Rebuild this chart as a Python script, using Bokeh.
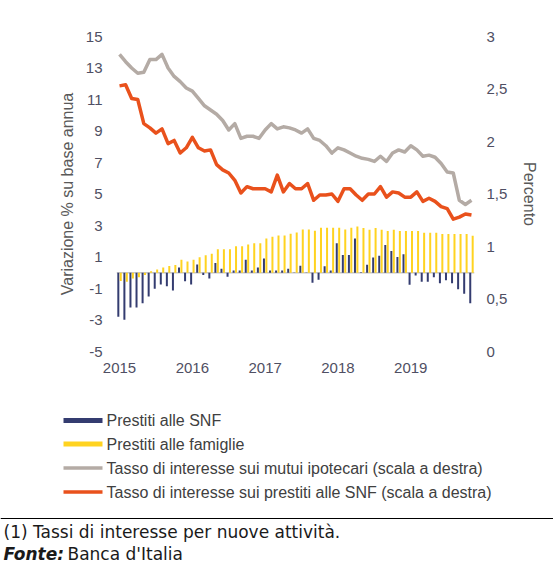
from bokeh.plotting import figure
from bokeh.models import Range1d, LinearAxis, FixedTicker, Span, CustomJSTickFormatter, ColumnDataSource
from bokeh.transform import dodge
from bokeh.core.properties import value
from bokeh.embed import file_html
from bokeh.resources import INLINE

# ---------------- data (monthly, Jan 2015 - Nov 2019) ----------------
years = ["2015", "2016", "2017", "2018", "2019"]

prestiti_snf = [
    -2.79, -2.98, -2.20, -2.20, -1.93, -1.50, -1.02, -0.74, -0.85, -1.12, 0.34, -0.54,
    -0.75, 0.53, -0.15, -0.36, 0.62, 0.26, -0.25, 0.15, 0.15, 0.83, 0.15, 0.34,
    0.91, 0.15, 0.15, 0.15, 0.25, 0.02, 0.44, 0.02, -0.63, -0.44, 0.42, 0.15,
    1.88, 1.12, 1.12, 2.18, 0.03, 0.51, 0.97, 1.08, 1.76, 1.38, 1.00, 1.18,
    -0.76, -0.17, -0.57, -0.57, -0.28, -0.66, -0.47, -0.66, -1.04, -1.33, -1.93,
]
prestiti_famiglie = [
    -0.53, -0.57, -0.36, -0.28, -0.15, 0.10, 0.21, 0.34, 0.43, 0.50, 0.83, 0.71,
    0.83, 0.99, 1.11, 1.21, 1.50, 1.50, 1.50, 1.68, 1.68, 1.80, 1.88, 1.88,
    2.18, 2.29, 2.37, 2.37, 2.48, 2.56, 2.75, 2.75, 2.67, 2.86, 2.86, 2.86,
    2.86, 2.75, 2.86, 2.93, 2.84, 2.73, 2.84, 2.73, 2.65, 2.73, 2.65, 2.65,
    2.65, 2.65, 2.54, 2.54, 2.54, 2.46, 2.46, 2.46, 2.46, 2.46, 2.35,
]
tasso_mutui = [
    2.83, 2.76, 2.70, 2.65, 2.66, 2.78, 2.78, 2.83, 2.70, 2.62, 2.57, 2.51,
    2.48, 2.41, 2.34, 2.30, 2.26, 2.20, 2.11, 2.17, 2.03, 2.05, 2.05, 2.03,
    2.11, 2.17, 2.12, 2.14, 2.13, 2.11, 2.08, 2.12, 2.03, 2.01, 1.96, 1.89,
    1.94, 1.92, 1.89, 1.86, 1.84, 1.83, 1.81, 1.86, 1.81, 1.89, 1.92, 1.90,
    1.96, 1.92, 1.86, 1.87, 1.85, 1.79, 1.71, 1.70, 1.44, 1.40, 1.44,
]
tasso_snf = [
    2.53, 2.54, 2.41, 2.40, 2.17, 2.13, 2.08, 2.12, 1.98, 2.01, 1.89, 1.94,
    2.04, 1.94, 1.91, 1.92, 1.78, 1.73, 1.70, 1.63, 1.51, 1.57, 1.55, 1.55,
    1.55, 1.52, 1.68, 1.52, 1.60, 1.55, 1.55, 1.60, 1.44, 1.49, 1.49, 1.50,
    1.43, 1.55, 1.55, 1.49, 1.44, 1.50, 1.50, 1.57, 1.47, 1.52, 1.51, 1.47,
    1.47, 1.52, 1.43, 1.46, 1.43, 1.38, 1.36, 1.26, 1.28, 1.31, 1.30,
]

legend_labels = [
    "Prestiti alle SNF",
    "Prestiti alle famiglie",
    "Tasso di interesse sui mutui ipotecari (scala a destra)",
    "Tasso di interesse sui prestiti alle SNF (scala a destra)",
]
left_title = "Variazione % su base annua"
right_title = "Percento"
note_text = "(1) Tassi di interesse per nuove attività."
source_label = "Fonte:"
source_text = "Banca d'Italia"

# ---------------- styles ----------------
NAVY = "#343c70"
YELLOW = "#ffd320"
GREY = "#b4aba5"
ORANGE = "#e9511c"
TICK_COL = "#4f4f63"
TITLE_COL = "#595959"
FONT = "Liberation Sans"

n = len(prestiti_snf)
src = ColumnDataSource(dict(
    x=list(range(n)),
    snf=prestiti_snf,
    fam=prestiti_famiglie,
    mutui=tasso_mutui,
    tsnf=tasso_snf,
))

p = figure(width=553, height=395,
           x_range=Range1d(-0.5, n - 0.5), y_range=Range1d(-5, 15),
           output_backend="svg", toolbar_location=None,
           min_border_left=116, min_border_right=79,
           min_border_top=36, min_border_bottom=44)
p.outline_line_color = None
p.grid.visible = False
p.background_fill_color = "white"
p.border_fill_color = "white"
p.extra_y_ranges = {"pct": Range1d(0, 3)}

# zero baseline
p.add_layout(Span(location=0, dimension="width", line_color="#c8c8c8", line_width=1.5, level="underlay"))

p.vbar(x=dodge("x", -0.2, range=p.x_range), top="snf", bottom=0, width=0.33,
       source=src, fill_color=NAVY, line_color=None)
p.vbar(x=dodge("x", 0.2, range=p.x_range), top="fam", bottom=0, width=0.33,
       source=src, fill_color=YELLOW, line_color=None)
p.line("x", "mutui", source=src, y_range_name="pct", line_color=GREY, line_width=3.5, line_join="round")
p.line("x", "tsnf", source=src, y_range_name="pct", line_color=ORANGE, line_width=3.5, line_join="round")

def style_axis(ax):
    ax.axis_line_color = None
    ax.major_tick_line_color = None
    ax.minor_tick_line_color = None
    ax.major_tick_out = 0
    ax.major_tick_in = 0
    ax.minor_tick_out = 0
    ax.major_label_text_font = FONT
    ax.major_label_text_font_size = "15px"
    ax.major_label_text_color = TICK_COL
    ax.axis_label_text_font = FONT
    ax.axis_label_text_font_size = "16px"
    ax.axis_label_text_font_style = "normal"
    ax.axis_label_text_color = TITLE_COL

# left axis
ly = p.yaxis[0]
style_axis(ly)
ly.ticker = FixedTicker(ticks=list(range(-5, 16, 2)))
ly.formatter = CustomJSTickFormatter(code="return tick.toString();")
ly.major_label_standoff = 14
ly.axis_label = left_title
ly.axis_label_standoff = 7

# right axis
ry = LinearAxis(y_range_name="pct")
style_axis(ry)
ry.ticker = FixedTicker(ticks=[0, 0.5, 1, 1.5, 2, 2.5, 3])
ry.formatter = CustomJSTickFormatter(code="return tick.toString().replace('.', ',');")
ry.major_label_standoff = 12
ry.axis_label = right_title
ry.axis_label_standoff = 11
p.add_layout(ry, "right")

# x axis
xa = p.xaxis[0]
style_axis(xa)
xa.ticker = FixedTicker(ticks=[12 * k for k in range(len(years))])
xa.major_label_overrides = {12 * k: y for k, y in enumerate(years)}
xa.major_label_standoff = 11

# ---------------- legend + footnote panel ----------------
q = figure(width=553, height=173, x_range=Range1d(0, 553), y_range=Range1d(173, 0),
           output_backend="svg", toolbar_location=None, min_border=0,
           x_axis_location=None, y_axis_location=None)
q.outline_line_color = None
q.grid.visible = False

rows = [25, 48.5, 72.5, 96.5]
q.rect(x=[82.5, 82.5], y=rows[:2], width=39, height=5, fill_color=[NAVY, YELLOW], line_color=None)
q.segment(x0=[63, 63], y0=rows[2:], x1=[102, 102], y1=rows[2:], line_color=[GREY, ORANGE], line_width=3.5)
q.text(x=[106] * 4, y=rows, text=legend_labels, text_font=value(FONT), text_font_size="16px",
       text_color="#404040", text_baseline="middle", text_align="left")

q.segment(x0=[0], y0=[123], x1=[553], y1=[123], line_color="black", line_width=1)
q.text(x=[3], y=[136], text=[note_text], text_font=value("DejaVu Sans"), text_font_size="17px",
       text_color="#1a1a1a", text_baseline="middle", text_align="left")
q.text(x=[3], y=[158], text=[source_label], text_font=value("DejaVu Sans"), text_font_size="17px",
       text_font_style="bold italic", text_color="#1a1a1a", text_baseline="middle", text_align="left")
q.text(x=[67], y=[158], text=[source_text], text_font=value("DejaVu Sans"), text_font_size="17px",
       text_color="#1a1a1a", text_baseline="middle", text_align="left")

open("out.html", "w").write(file_html([p, q], INLINE))
